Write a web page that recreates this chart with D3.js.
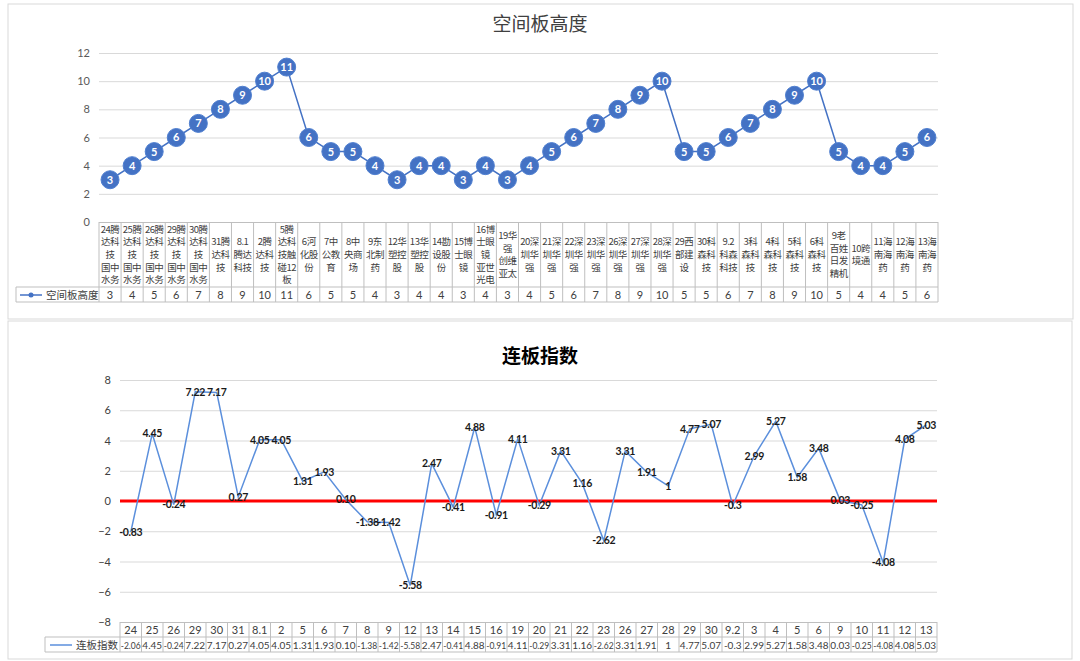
<!DOCTYPE html>
<html>
<head>
<meta charset="utf-8">
<script src="https://cdn.jsdelivr.net/npm/d3@7"></script>
<style>
  body { margin: 0; background: #fff; }
  svg { display: block; font-family: "Noto Sans CJK SC", sans-serif; }
  .num { font-family: Lato, "Noto Sans CJK SC", sans-serif; }
</style>
</head>
<body>
<svg id="chart" width="1080" height="661"></svg>
<script>
// ---------- data ----------
let topLabels = [
  '24腾|达科|技|国中|水务', '25腾|达科|技|国中|水务', '26腾|达科|技|国中|水务',
  '29腾|达科|技|国中|水务', '30腾|达科|技|国中|水务', '31腾|达科|技', '8.1|腾达|科技',
  '2腾|达科|技', '5腾|达科|技触|碰12|板', '6河|化股|份', '7中|公教|育', '8中|央商|场',
  '9东|北制|药', '12华|塑控|股', '13华|塑控|股', '14勘|设股|份', '15博|士眼|镜',
  '16博|士眼|镜|亚世|光电', '19华|强|创维|亚太', '20深|圳华|强', '21深|圳华|强',
  '22深|圳华|强', '23深|圳华|强', '26深|圳华|强', '27深|圳华|强', '28深|圳华|强',
  '29西|部建|设', '30科|森科|技', '9.2|科森|科技', '3科|森科|技', '4科|森科|技',
  '5科|森科|技', '6科|森科|技', '9老|百姓|日发|精机', '10跨|境通', '11海|南海|药',
  '12海|南海|药', '13海|南海|药'
];
let heightValues = [3,4,5,6,7,8,9,10,11,6,5,5,4,3,4,4,3,4,3,4,5,6,7,8,9,10,5,5,6,7,8,9,10,5,4,4,5,6];

let dayLabels = ['24','25','26','29','30','31','8.1','2','5','6','7','8','9','12','13','14','15','16','19',
  '20','21','22','23','26','27','28','29','30','9.2','3','4','5','6','9','10','11','12','13'];
let indexValues = [-2.06,4.45,-0.24,7.22,7.17,0.27,4.05,4.05,1.31,1.93,0.10,-1.38,-1.42,-5.58,2.47,-0.41,
  4.88,-0.91,4.11,-0.29,3.31,1.16,-2.62,3.31,1.91,1,4.77,5.07,-0.3,2.99,5.27,1.58,3.48,0.03,-0.25,-4.08,4.08,5.03];
let indexText = ['-2.06','4.45','-0.24','7.22','7.17','0.27','4.05','4.05','1.31','1.93','0.10','-1.38','-1.42',
  '-5.58','2.47','-0.41','4.88','-0.91','4.11','-0.29','3.31','1.16','-2.62','3.31','1.91','1','4.77','5.07',
  '-0.3','2.99','5.27','1.58','3.48','0.03','-0.25','-4.08','4.08','5.03'];
// the data label on the first point reads differently from the table
let pointText = indexText.slice();
pointText[0] = '-0.83';

let svg = d3.select('#chart');

// panels
svg.append('rect').attr('x', 8).attr('y', 4).attr('width', 1065).attr('height', 315)
  .attr('fill', 'none').attr('stroke', '#d9d9d9');
svg.append('rect').attr('x', 8).attr('y', 321).attr('width', 1064).attr('height', 338)
  .attr('fill', 'none').attr('stroke', '#d9d9d9');

// ------------------ top chart ---------------------
let x1 = d3.scaleBand().domain(d3.range(heightValues.length)).range([99, 938]);
let y1 = d3.scaleLinear().domain([0, 12]).range([222, 53]);

svg.append('text').attr('x', 540).attr('y', 31).attr('text-anchor', 'middle')
  .attr('font-size', 19).attr('fill', '#404040').text('空间板高度');

let gy1 = svg.append('g').attr('class', 'num').attr('transform', 'translate(99,0)')
  .call(d3.axisLeft(y1).tickValues(d3.range(0, 13, 2)).tickSize(-(938 - 99)).tickPadding(9));
gy1.select('.domain').remove();
gy1.selectAll('line').attr('stroke', function(d) { return d === 0 ? '#bfbfbf' : '#d9d9d9'; });
gy1.selectAll('text').attr('font-size', 11).attr('fill', '#595959');

let line1 = d3.line()
  .x(function(d, i) { return x1(i) + x1.bandwidth() / 2; })
  .y(function(d) { return y1(d); });
svg.append('path').datum(heightValues).attr('d', line1)
  .attr('fill', 'none').attr('stroke', '#4472c4').attr('stroke-width', 1.5);

let dots = svg.selectAll('.dot').data(heightValues).enter().append('g')
  .attr('transform', function(d, i) { return 'translate(' + (x1(i) + x1.bandwidth() / 2) + ',' + y1(d) + ')'; });
dots.append('circle').attr('r', 9).attr('fill', '#4472c4').attr('stroke', '#4f7fd0').attr('stroke-width', 1);
dots.append('text').attr('class', 'num').attr('text-anchor', 'middle').attr('dy', '0.36em')
  .attr('font-size', 11).attr('font-weight', 'bold').attr('fill', '#fff')
  .text(function(d) { return d; });

// table under top chart
let t1 = svg.append('g');
x1.domain().concat([heightValues.length]).forEach(function(i) {
  let xx = i < heightValues.length ? x1(i) : 938;
  t1.append('line').attr('x1', xx).attr('x2', xx).attr('y1', 222).attr('y2', 302).attr('stroke', '#bfbfbf');
});
[287, 302].forEach(function(yy) {
  t1.append('line').attr('x1', 16).attr('x2', 938).attr('y1', yy).attr('y2', yy).attr('stroke', '#bfbfbf');
});
t1.append('line').attr('x1', 16).attr('x2', 16).attr('y1', 287).attr('y2', 302).attr('stroke', '#bfbfbf');

topLabels.forEach(function(lab, i) {
  let lines = lab.split('|');
  let cx = x1(i) + x1.bandwidth() / 2;
  let lh = 12.6;
  let y0 = 254.5 - (lines.length - 1) * lh / 2;
  let tx = t1.append('text').attr('text-anchor', 'middle').attr('font-size', 9.5)
    .attr('letter-spacing', -0.5).attr('fill', '#404040');
  lines.forEach(function(s, k) {
    tx.append('tspan').attr('x', cx).attr('y', y0 + k * lh + 3.5).text(s);
  });
});
heightValues.forEach(function(v, i) {
  t1.append('text').attr('class', 'num').attr('x', x1(i) + x1.bandwidth() / 2).attr('y', 295).attr('dy', '0.36em')
    .attr('text-anchor', 'middle').attr('font-size', 11).attr('fill', '#404040').text(v);
});
// legend key
t1.append('line').attr('x1', 20).attr('x2', 42).attr('y1', 295).attr('y2', 295).attr('stroke', '#4472c4').attr('stroke-width', 1.5);
t1.append('circle').attr('cx', 31).attr('cy', 295).attr('r', 2.5).attr('fill', '#4472c4');
t1.append('text').attr('x', 46).attr('y', 295).attr('dy', '0.36em').attr('font-size', 10.5)
  .attr('fill', '#404040').text('空间板高度');

// ------------------ bottom chart ---------------------
let x2 = d3.scaleBand().domain(d3.range(indexValues.length)).range([120, 937]);
let y2 = d3.scaleLinear().domain([-8, 8]).range([622, 380]);

svg.append('text').attr('x', 540).attr('y', 363).attr('text-anchor', 'middle')
  .attr('font-size', 19).attr('font-weight', 'bold').attr('fill', '#000').text('连板指数');

let gy2 = svg.append('g').attr('class', 'num').attr('transform', 'translate(120,0)')
  .call(d3.axisLeft(y2).tickValues(d3.range(-8, 9, 2)).tickSize(-(937 - 120)).tickPadding(9));
gy2.select('.domain').remove();
gy2.selectAll('line').attr('stroke', function(d) { return d === -8 ? '#bfbfbf' : '#d9d9d9'; });
gy2.selectAll('text').attr('font-size', 11).attr('fill', '#404040');

// zero line
svg.append('line').attr('x1', 120).attr('x2', 937).attr('y1', y2(0)).attr('y2', y2(0))
  .attr('stroke', '#ff0000').attr('stroke-width', 3);

let line2 = d3.line()
  .x(function(d, i) { return x2(i) + x2.bandwidth() / 2; })
  .y(function(d) { return y2(d); });
svg.append('path').datum(indexValues).attr('d', line2)
  .attr('fill', 'none').attr('stroke', '#5b8fdc').attr('stroke-width', 1.5);

svg.selectAll('.plab').data(indexValues).enter().append('text').attr('class', 'num')
  .attr('x', function(d, i) { return x2(i) + x2.bandwidth() / 2; })
  .attr('y', function(d) { return y2(d); }).attr('dy', '0.36em')
  .attr('text-anchor', 'middle').attr('font-size', 10.5).attr('font-weight', 'bold').attr('fill', '#1a1a1a')
  .attr('letter-spacing', -0.3)
  .text(function(d, i) { return pointText[i]; });

// table under bottom chart
let t2 = svg.append('g');
x2.domain().concat([indexValues.length]).forEach(function(i) {
  let xx = i < indexValues.length ? x2(i) : 937;
  t2.append('line').attr('x1', xx).attr('x2', xx).attr('y1', 622).attr('y2', 652).attr('stroke', '#bfbfbf');
});
[637, 652].forEach(function(yy) {
  t2.append('line').attr('x1', 45).attr('x2', 937).attr('y1', yy).attr('y2', yy).attr('stroke', '#bfbfbf');
});
t2.append('line').attr('x1', 45).attr('x2', 45).attr('y1', 637).attr('y2', 652).attr('stroke', '#bfbfbf');
dayLabels.forEach(function(s, i) {
  t2.append('text').attr('class', 'num').attr('x', x2(i) + x2.bandwidth() / 2).attr('y', 630).attr('dy', '0.36em')
    .attr('text-anchor', 'middle').attr('font-size', 11).attr('fill', '#404040').text(s);
});
indexText.forEach(function(s, i) {
  t2.append('text').attr('class', 'num').attr('x', x2(i) + x2.bandwidth() / 2).attr('y', 645).attr('dy', '0.36em')
    .attr('text-anchor', 'middle').attr('font-size', 10).attr('fill', '#404040')
    .attr('textLength', s.length > 4 ? 20 : null).attr('lengthAdjust', 'spacingAndGlyphs').text(s);
});
t2.append('line').attr('x1', 50).attr('x2', 72).attr('y1', 645).attr('y2', 645).attr('stroke', '#5b8fdc').attr('stroke-width', 1.5);
t2.append('text').attr('x', 76).attr('y', 645).attr('dy', '0.36em').attr('font-size', 10.5)
  .attr('fill', '#404040').text('连板指数');
</script>
</body>
</html>
